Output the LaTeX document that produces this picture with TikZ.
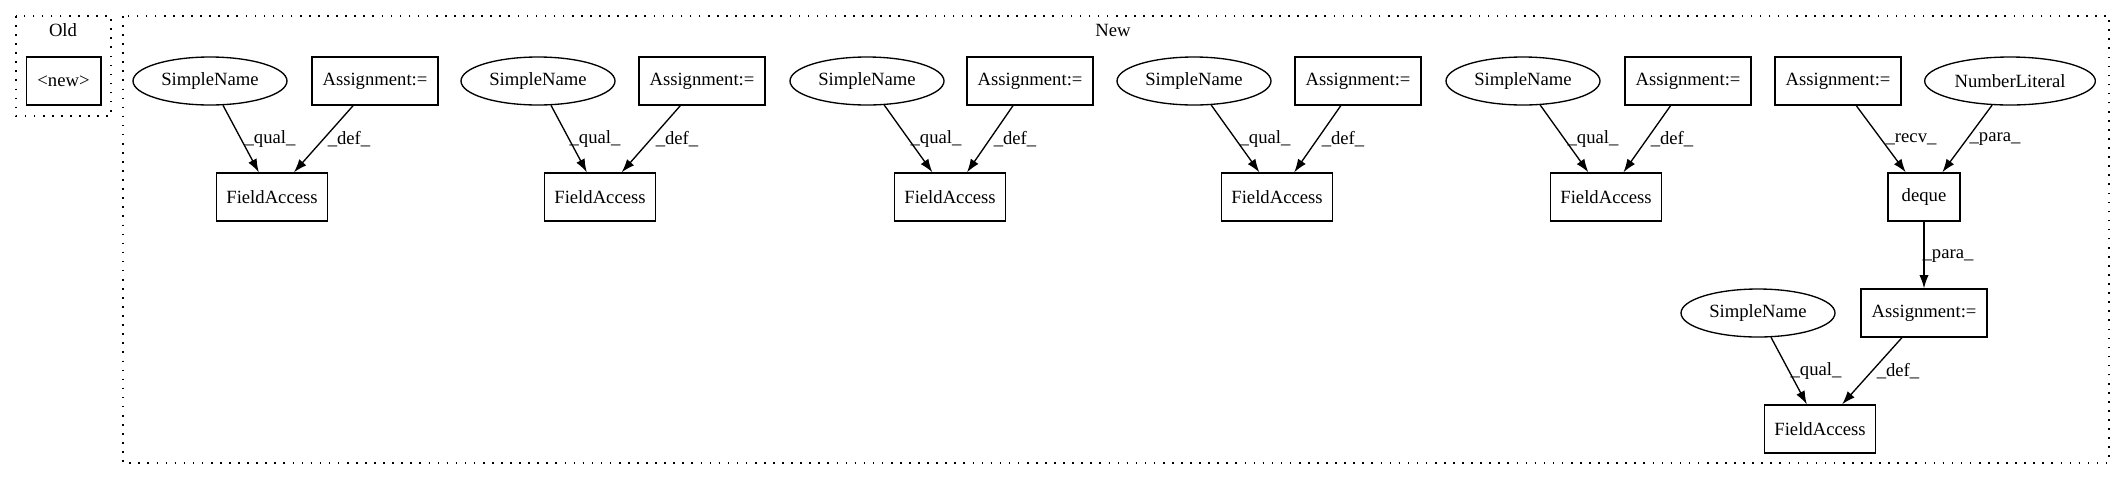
\documentclass[tikz,border=0pt]{standalone}
\usepackage{fontspec}
\setmainfont{Liberation Serif}
\usetikzlibrary{shapes.geometric,arrows.meta}
\begin{document}
\begin{tikzpicture}[x=0.75pt,y=-0.75pt,
  every node/.style={font=\fontsize{14}{16}\selectfont},
  box/.style={draw,rectangle,line width=1pt,inner sep=0pt,minimum height=36pt},
  ell/.style={draw,ellipse,line width=1pt,inner sep=0pt,minimum height=36pt},
  conn/.style={-{Latex[length=10pt,width=7pt]},line width=1pt},
  lbl/.style={inner sep=0pt},
  cluster/.style={draw,line width=1pt,dash pattern=on 1.2pt off 5.6pt}]
\useasboundingbox (0,0) rectangle (2120,480);
% clusters
\draw[cluster] (16,16) rectangle (111,116);
\node[lbl] (oldlbl) at (63,30) {Old};
\draw[cluster] (123,16) rectangle (2109,463);
\node[lbl] (newlbl) at (1113,30) {New};
% Old
\node[box,minimum width=56pt] (new) at (63.5,81) {<new>};
% five groups
\foreach \i/\s/\a/\f/\q/\d in {1/210/375/272/270/349, 2/538/702/600/595/677, 3/867/1030/950/936/1015, 4/1194/1358/1277/1265/1343, 5/1523/1688/1606/1593/1672}{
  \node[ell,minimum width=115.5pt] (sn\i) at (\s,81) {SimpleName};
  \node[box,minimum width=94.5pt] (as\i) at (\a,81) {Assignment:=};
  \node[box,minimum width=83pt] (fa\i) at (\f,197) {FieldAccess};
  \draw[conn] (sn\i) -- (fa\i);
  \draw[conn] (as\i) -- (fa\i);
  \node[lbl] (lq\i) at (\q,139) {\_qual\_};
  \node[lbl] (ld\i) at (\d,139) {\_def\_};
}
% deque group
\node[box,minimum width=94.5pt] (as6) at (1838,81) {Assignment:=};
\node[ell,minimum width=128pt] (nl) at (2010,81) {NumberLiteral};
\node[box,minimum width=54pt] (dq) at (1924,197) {deque};
\node[box,minimum width=94.5pt] (as7) at (1924,313) {Assignment:=};
\node[ell,minimum width=115.5pt] (sn6) at (1758,313) {SimpleName};
\node[box,minimum width=83pt] (fa7) at (1820,429) {FieldAccess};
\draw[conn] (as6) -- (dq);
\draw[conn] (nl) -- (dq);
\draw[conn] (dq) -- (as7);
\draw[conn] (sn6) -- (fa7);
\draw[conn] (as7) -- (fa7);
\node[lbl] (lrecv) at (1911,139) {\_recv\_};
\node[lbl] (lpara1) at (1995,139) {\_para\_};
\node[lbl] (lpara2) at (1948,256) {\_para\_};
\node[lbl] (lq6) at (1816,371) {\_qual\_};
\node[lbl] (ld6) at (1898,371) {\_def\_};
\end{tikzpicture}
\end{document}
